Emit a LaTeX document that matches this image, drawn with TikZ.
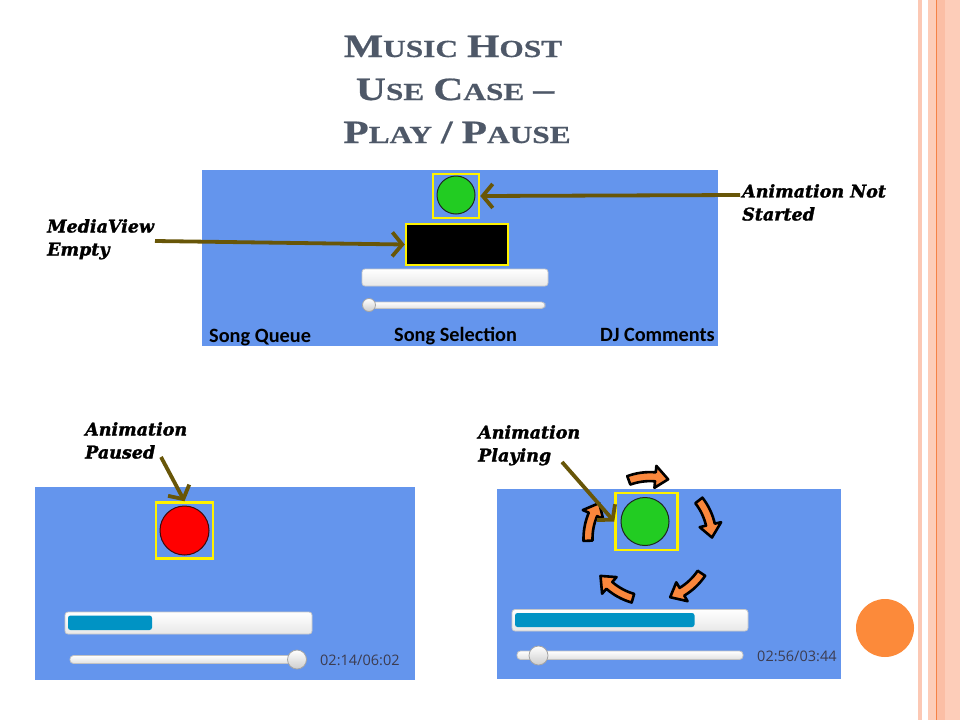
\documentclass[tikz,border=0pt]{standalone}
\usepackage{fontspec}
\setmainfont{Liberation Serif}
\newfontfamily\titlefont{Liberation Serif}[FakeStretch=1.28,FakeBold=0.6]
\newfontfamily\labelfont{DejaVu Serif}[FakeBold=1.6]
\newfontfamily\uifont{Carlito}
\newfontfamily\timefont{Open Sans}
\usetikzlibrary{arrows.meta,shapes.geometric}
\definecolor{panelblue}{RGB}{100,149,237}
\definecolor{olive}{RGB}{104,86,8}
\definecolor{titlegray}{RGB}{78,88,104}
\definecolor{okgreen}{RGB}{34,204,34}
\definecolor{barblue}{RGB}{0,147,196}
\definecolor{fatorange}{RGB}{250,135,60}
\definecolor{dotorange}{RGB}{252,138,58}
\definecolor{stripe}{RGB}{253,205,185}
\definecolor{stripepale}{RGB}{252,200,180}
\definecolor{stripedark}{RGB}{251,190,165}
\definecolor{stripeline}{RGB}{245,130,70}
\definecolor{timegray}{RGB}{60,60,80}
\newcommand\BigC[1]{{\fontsize{32.5}{32}\selectfont #1}}
\newcommand\SmC[1]{{\fontsize{24.5}{24}\selectfont #1}}
\newcommand\TSp{\hspace{9pt}}
\newcommand\fatarrow[3]{%
  \pgfmathsetmacro\fA{-(#3)}%
  \pgfmathsetmacro\fB{-(#3)+25}%
  \pgfmathsetmacro\fT{-(#3)+37}%
  \draw[fatarrowstyle] ([shift={(#1,#2)}]\fA:66.5) arc[start angle=\fA, end angle=\fB, radius=66.5]
    -- ([shift={(#1,#2)}]\fB:73) -- ([shift={(#1,#2)}]\fT:62) -- ([shift={(#1,#2)}]\fB:51)
    -- ([shift={(#1,#2)}]\fB:57.5) arc[start angle=\fB, end angle=\fA, radius=57.5] -- cycle;}
\tikzset{
  titlestyle/.style={font=\titlefont\bfseries, text=titlegray, inner sep=0pt, anchor=base},
  lbl/.style={font=\labelfont\bfseries\itshape\fontsize{17.5}{23}\selectfont, align=left, inner sep=0pt, anchor=north west},
  pointer/.style={draw=olive, line width=3.8pt, -{Straight Barb[length=10pt,width=24pt]}},
  hilite/.style={draw=yellow, line width=2.5pt, inner sep=0pt},
  panel/.style={fill=panelblue},
  uilbl/.style={font=\uifont\bfseries\fontsize{20.3}{20}\selectfont, inner sep=0pt, anchor=base west},
  timelbl/.style={font=\timefont\fontsize{14.5}{14.5}\selectfont, text=timegray, inner sep=0pt, anchor=west},
  barbox/.style={draw={rgb,255:red,200;green,200;blue,200}, line width=0.8pt, rounded corners=3pt, top color=white, bottom color={rgb,255:red,232;green,232;blue,232}},
  barfill/.style={fill=barblue, rounded corners=2.5pt},
  track/.style={draw={rgb,255:red,195;green,195;blue,195}, line width=0.8pt, rounded corners=3.5pt, top color=white, bottom color={rgb,255:red,225;green,225;blue,225}},
  knob/.style={draw={rgb,255:red,165;green,165;blue,165}, line width=0.8pt, top color=white, bottom color={rgb,255:red,205;green,205;blue,205}},
  fatarrowstyle/.style={fill=fatorange, draw=black, line width=2.6pt, line join=round},
}
\begin{document}
\begin{tikzpicture}[x=1pt,y=-1pt]
\useasboundingbox (0,0) rectangle (960,720);
\fill[white] (0,0) rectangle (960,720);
% right decoration
\fill[stripepale] (918,0) rectangle (922,720);
\fill[stripe] (928,0) rectangle (960,720);
\fill[stripedark] (937,0) rectangle (945,720);
\draw[stripeline, line width=1pt] (936.5,0) -- (936.5,720);
\fill[dotorange] (885,628) circle[radius=29];
% title
\node[titlestyle] (t1) at (453,57) {\BigC{M}\SmC{USIC}\TSp\BigC{H}\SmC{OST}};
\node[titlestyle] (t2) at (455,100) {\BigC{U}\SmC{SE}\TSp\BigC{C}\SmC{ASE}\TSp\BigC{–}};
\node[titlestyle] (t3) at (457,143) {\BigC{P}\SmC{LAY}\TSp\BigC{/}\TSp\BigC{P}\SmC{AUSE}};
% ---------- top panel
\fill[panel] (202,170) rectangle (718,346);
\node[hilite, minimum width=46pt, minimum height=44pt] (greenbox) at (456,196) {};
\fill[okgreen, draw={rgb,255:red,30;green,40;blue,30}, line width=1pt] (456,195) circle[radius=19];
\node[hilite, fill=black, minimum width=102pt, minimum height=41pt] (mediabox) at (457,244.5) {};
\draw[barbox] (362,269) rectangle (548,286);
\draw[track] (363,302) rectangle (545,308.5);
\draw[knob] (369,305) circle[radius=6.5];
\begin{scope}
\clip (202,170) rectangle (718,346);
\node[uilbl] (sq) at (209,342) {Song Queue};
\node[uilbl] (ss) at (394,341) {Song Selection};
\node[uilbl] (dj) at (600,341) {DJ Comments};
\end{scope}
\node[lbl] (lblnot) at (742,184) {Animation Not\\Started};
\node[lbl] (lblmedia) at (47,219) {MediaView\\Empty};
\coordinate (cnot) at (740,195);
\coordinate (cmedia) at (155,241);
\draw[pointer] (cnot) -- (greenbox.east);
\draw[pointer] (cmedia) -- (mediabox.west);
% ---------- bottom left panel
\fill[panel] (35,487) rectangle (415,680);
\node[hilite, minimum width=57pt, minimum height=56pt] (pausedbox) at (184.5,530.5) {};
\fill[red, draw={rgb,255:red,60;green,10;blue,10}, line width=1pt] (184.5,530.5) circle[radius=24.5];
\draw[barbox] (65,612) rectangle (312,634);
\fill[barfill] (68,615.5) rectangle (152,630);
\draw[track] (70,655.5) rectangle (297,663.5);
\draw[knob] (297,659.5) circle[radius=9.5];
\node[timelbl] (tl) at (320,660) {02:14/06:02};
\node[lbl] (lblpaused) at (85,422) {Animation\\Paused};
\coordinate (cpaused) at (161,457);
\draw[pointer] (cpaused) -- (pausedbox.north);
% ---------- bottom right panel
\fill[panel] (497,489) rectangle (841,679);
\node[hilite, minimum width=62pt, minimum height=57pt] (playbox) at (646.5,521.5) {};
\fill[okgreen, draw={rgb,255:red,30;green,40;blue,30}, line width=1pt] (645,521.5) circle[radius=24];
\fatarrow{650}{538.6}{110}
\fatarrow{650}{538.6}{38}
\fatarrow{650}{538.6}{-34}
\fatarrow{650}{538.6}{-106}
\fatarrow{650}{538.6}{-178}
\draw[barbox] (512,609.5) rectangle (748,631);
\fill[barfill] (515,613) rectangle (694.5,627);
\draw[track] (517,651) rectangle (743,659.5);
\draw[knob] (538.5,655.5) circle[radius=9.5];
\node[timelbl] (tr) at (757,656) {02:56/03:44};
\node[lbl] (lblplaying) at (478,425) {Animation\\Playing};
\coordinate (cplay) at (562,462);
\draw[pointer] (cplay) -- (playbox.west);
\end{tikzpicture}
\end{document}
